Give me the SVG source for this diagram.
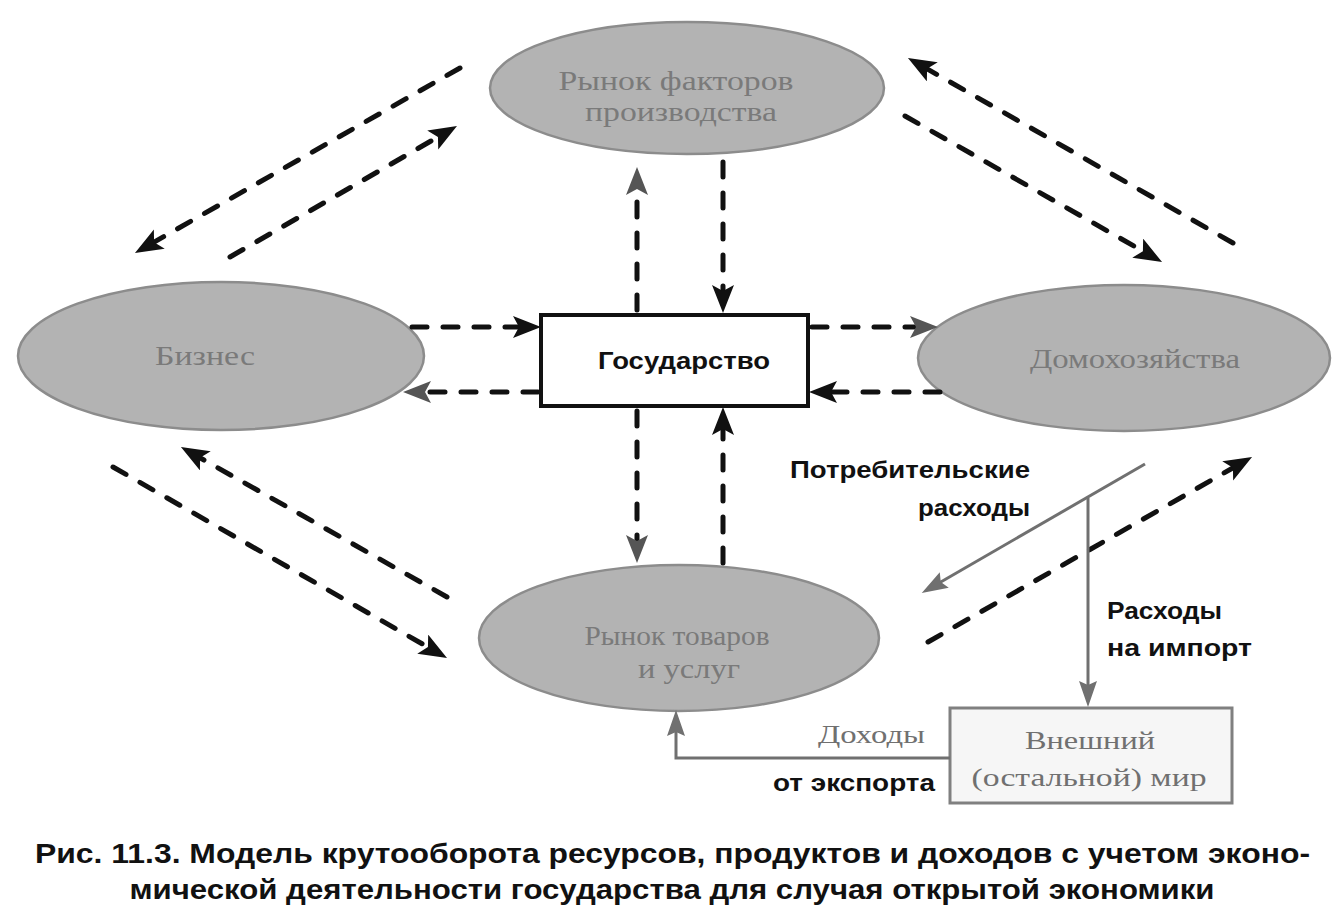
<svg xmlns="http://www.w3.org/2000/svg" width="1343" height="922" viewBox="0 0 1343 922">
<style>
.ell{fill:#b3b3b3;stroke:#8c8c8c;stroke-width:2.5}
.et{font-family:"Liberation Serif",serif;font-size:27px;fill:#7a7a7a;text-anchor:middle}
.dash{fill:none;stroke:#111;stroke-width:5;stroke-dasharray:15 16;stroke-linecap:round}
.gline{fill:none;stroke:#707070;stroke-width:3}
.bt{font-family:"Liberation Sans",Arial,sans-serif;font-weight:bold;font-size:24px;fill:#111}
.gt{font-family:"Liberation Serif",serif;font-size:26px;fill:#707070}
.cap{font-family:"Liberation Sans",Arial,sans-serif;font-weight:bold;font-size:28px;fill:#111}
</style>
<defs>
<marker id="ah" markerUnits="userSpaceOnUse" markerWidth="32" markerHeight="24" refX="13" refY="11" orient="auto">
<path d="M0,0 L28,11 L0,22 L6,11 z" fill="#111"/>
</marker>
<marker id="ahg" markerUnits="userSpaceOnUse" markerWidth="32" markerHeight="24" refX="13" refY="11" orient="auto">
<path d="M0,0 L28,11 L0,22 L6,11 z" fill="#555"/>
</marker>
<marker id="ahs" markerUnits="userSpaceOnUse" markerWidth="30" markerHeight="22" refX="13" refY="9" orient="auto">
<path d="M0,0 L26,9 L0,18 L4,9 z" fill="#707070"/>
</marker>
</defs>
<rect width="1343" height="922" fill="#ffffff"/>

<g id="node-factors">
<ellipse class="ell" cx="687" cy="88" rx="197" ry="66"/>
<text class="et" x="676" y="90" textLength="235" lengthAdjust="spacingAndGlyphs">Рынок факторов</text>
<text class="et" x="681" y="121" textLength="192" lengthAdjust="spacingAndGlyphs">производства</text>
</g>
<g id="node-business">
<ellipse class="ell" cx="221" cy="356" rx="203" ry="74"/>
<text class="et" x="205" y="365" textLength="100" lengthAdjust="spacingAndGlyphs">Бизнес</text>
</g>
<g id="node-households">
<ellipse class="ell" cx="1124" cy="358" rx="206" ry="73"/>
<text class="et" x="1135" y="368" textLength="210" lengthAdjust="spacingAndGlyphs">Домохозяйства</text>
</g>
<g id="node-goods">
<ellipse class="ell" cx="679" cy="638" rx="200" ry="73"/>
<text class="et" x="677" y="645" textLength="185" lengthAdjust="spacingAndGlyphs">Рынок товаров</text>
<text class="et" x="689" y="678" textLength="102" lengthAdjust="spacingAndGlyphs">и услуг</text>
</g>
<g id="node-state">
<rect x="541" y="315" width="267" height="91" fill="#ffffff" stroke="#111" stroke-width="4"/>
<text class="bt" x="684" y="369" text-anchor="middle" font-size="25" textLength="172" lengthAdjust="spacingAndGlyphs">Государство</text>
</g>
<g id="node-world">
<rect x="950" y="708" width="282" height="95" fill="#f6f6f6" stroke="#808080" stroke-width="3"/>
<text class="gt" x="1090" y="749" text-anchor="middle" textLength="130" lengthAdjust="spacingAndGlyphs">Внешний</text>
<text class="gt" x="1089" y="786" text-anchor="middle" textLength="235" lengthAdjust="spacingAndGlyphs">(остальной)  мир</text>
</g>

<g id="connectors">
<line class="dash" x1="460" y1="68" x2="148" y2="245.6" marker-end="url(#ah)"/>
<line class="dash" x1="230" y1="257" x2="444" y2="133.5" marker-end="url(#ah)"/>
<line class="dash" x1="1233" y1="243" x2="921" y2="65.4" marker-end="url(#ah)"/>
<line class="dash" x1="905" y1="116" x2="1149" y2="254.6" marker-end="url(#ah)"/>
<line class="dash" x1="447" y1="597" x2="194" y2="454.4" marker-end="url(#ah)"/>
<line class="dash" x1="113" y1="467" x2="434" y2="650.6" marker-end="url(#ah)"/>
<line class="dash" x1="928" y1="642" x2="1239" y2="464.4" marker-end="url(#ah)"/>
<line class="dash" x1="412" y1="327" x2="526" y2="327" marker-end="url(#ah)"/>
<line class="dash" x1="538" y1="392" x2="418" y2="392" marker-end="url(#ahg)"/>
<line class="dash" x1="812" y1="327" x2="923" y2="327" marker-end="url(#ahg)"/>
<line class="dash" x1="940" y1="392" x2="824" y2="392" marker-end="url(#ah)"/>
<line class="dash" x1="637" y1="310" x2="637" y2="182" marker-end="url(#ahg)"/>
<line class="dash" x1="723" y1="162" x2="723" y2="298" marker-end="url(#ah)"/>
<line class="dash" x1="637" y1="411" x2="637" y2="548" marker-end="url(#ahg)"/>
<line class="dash" x1="723" y1="563" x2="723" y2="422" marker-end="url(#ah)"/>
<line class="gline" x1="1145" y1="464" x2="933" y2="586.5" marker-end="url(#ahs)"/>
<line class="gline" x1="1088" y1="498" x2="1088" y2="694" marker-end="url(#ahs)"/>
<path class="gline" d="M950,758 H676 V723" marker-end="url(#ahs)"/>
</g>

<g id="labels">
<text class="bt" x="1030" y="478" text-anchor="end" textLength="240" lengthAdjust="spacingAndGlyphs">Потребительские</text>
<text class="bt" x="1030" y="516" text-anchor="end" textLength="112" lengthAdjust="spacingAndGlyphs">расходы</text>
<text class="bt" x="1107" y="619" textLength="115" lengthAdjust="spacingAndGlyphs">Расходы</text>
<text class="bt" x="1107" y="656" textLength="145" lengthAdjust="spacingAndGlyphs">на импорт</text>
<text class="gt" x="818" y="743" textLength="107" lengthAdjust="spacingAndGlyphs">Доходы</text>
<text class="bt" x="773" y="791" textLength="162" lengthAdjust="spacingAndGlyphs">от экспорта</text>
</g>

<g id="caption">
<text class="cap" x="35" y="863" textLength="1275" lengthAdjust="spacingAndGlyphs">Рис. 11.3. Модель крутооборота ресурсов, продуктов и доходов с учетом эконо-</text>
<text class="cap" x="672" y="899" text-anchor="middle" textLength="1085" lengthAdjust="spacingAndGlyphs">мической деятельности государства для случая открытой экономики</text>
</g>
</svg>
